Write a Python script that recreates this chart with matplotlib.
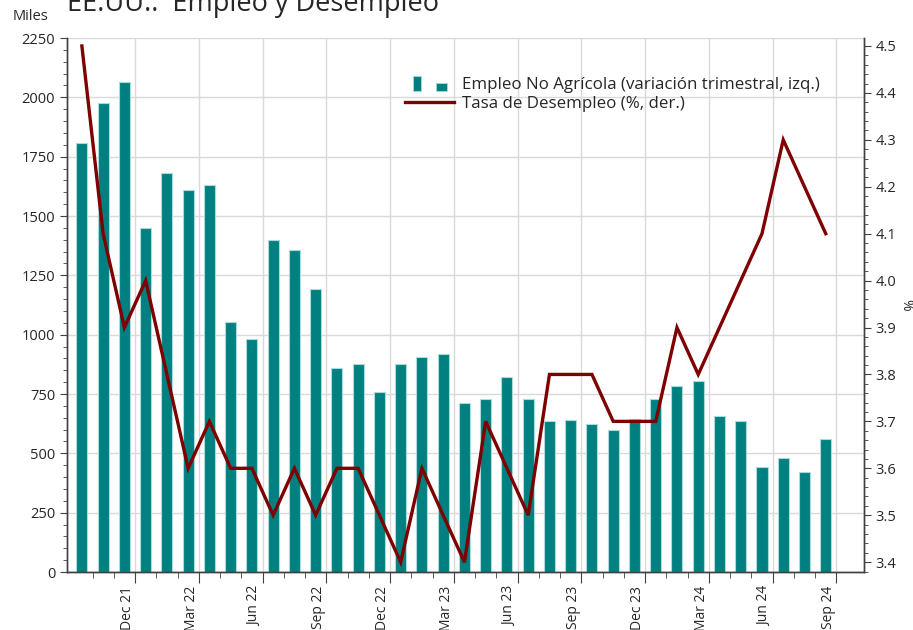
import matplotlib
matplotlib.use("Agg")
import matplotlib.pyplot as plt
import numpy as np
from matplotlib.legend_handler import HandlerBase
from matplotlib.patches import Rectangle, Patch
from matplotlib.lines import Line2D
from matplotlib.ticker import MultipleLocator, FixedLocator

plt.rcParams["font.family"] = ["Open Sans", "DejaVu Sans"]

# ---- data (Oct 21 .. Sep 24, monthly) ----------------------------------------
months = ["Oct 21", "Nov 21", "Dec 21", "Jan 22", "Feb 22", "Mar 22", "Apr 22", "May 22",
          "Jun 22", "Jul 22", "Aug 22", "Sep 22", "Oct 22", "Nov 22", "Dec 22", "Jan 23",
          "Feb 23", "Mar 23", "Apr 23", "May 23", "Jun 23", "Jul 23", "Aug 23", "Sep 23",
          "Oct 23", "Nov 23", "Dec 23", "Jan 24", "Feb 24", "Mar 24", "Apr 24", "May 24",
          "Jun 24", "Jul 24", "Aug 24", "Sep 24"]
payrolls_3m = [1806, 1978, 2063, 1450, 1683, 1611, 1632, 1055, 980, 1398, 1357, 1193,
               861, 878, 757, 878, 906, 920, 712, 729, 822, 729, 636, 640,
               625, 597, 643, 729, 785, 806, 656, 636, 444, 479, 423, 560]
unemployment = [4.5, 4.1, 3.9, 4.0, 3.8, 3.6, 3.7, 3.6, 3.6, 3.5, 3.6, 3.5,
                3.6, 3.6, 3.5, 3.4, 3.6, 3.5, 3.4, 3.7, 3.6, 3.5, 3.8, 3.8,
                3.8, 3.7, 3.7, 3.7, 3.9, 3.8, 3.9, 4.0, 4.1, 4.3, 4.2, 4.1]
quarter_labels = ["Dec 21", "Mar 22", "Jun 22", "Sep 22", "Dec 22", "Mar 23",
                  "Jun 23", "Sep 23", "Dec 23", "Mar 24", "Jun 24", "Sep 24"]

TEAL = "#008080"
TEAL_EDGE = "#a8dcd8"
RED = "#7f0000"
GRID = "#d9d9d9"
AXC = "#404040"
TXT = "#262626"

x = np.arange(len(months))

fig = plt.figure(figsize=(9.13, 6.30), dpi=100)
ax = fig.add_axes([67/913, 1 - 572/630, (864 - 67)/913, (572 - 38)/630])
ax2 = ax.twinx()

ax.bar(x, payrolls_3m, width=0.52, color=TEAL, edgecolor=TEAL_EDGE, linewidth=0.8, zorder=2)
ax2.plot(x, unemployment, color=RED, lw=2.4, solid_joinstyle="miter")

ax.set_xlim(-0.7, 36.8)
ax.set_ylim(0, 2250)
ax2.set_ylim(3.379, 4.517)

# left axis
ax.yaxis.set_major_locator(MultipleLocator(250))
ax.yaxis.set_minor_locator(MultipleLocator(50))
# right axis
ax2.yaxis.set_major_locator(FixedLocator(np.round(np.arange(3.4, 4.51, 0.1), 1)))
ax2.yaxis.set_minor_locator(FixedLocator(np.arange(3.38, 4.52, 0.02)))
ax2.yaxis.set_major_formatter(matplotlib.ticker.FormatStrFormatter("%.1f"))

# x axis: ticks at month boundaries, majors after each quarter-end month
major_pos = [months.index(m) + 0.5 for m in quarter_labels]
ax.xaxis.set_major_locator(FixedLocator(major_pos))
ax.xaxis.set_minor_locator(FixedLocator(np.arange(len(months)) + 0.5))
ax.set_xticklabels(quarter_labels, rotation=90, ha="right", va="top")

ax.grid(True, which="major", color=GRID, lw=1.0)
ax.set_axisbelow(True)

for a in (ax, ax2):
    a.spines["top"].set_visible(False)
    for s in ("left", "right", "bottom"):
        a.spines[s].set_color(AXC)
        a.spines[s].set_linewidth(1.0)
ax.tick_params(axis="both", which="both", colors=AXC, labelcolor=TXT, labelsize=10.5)
ax.tick_params(axis="x", which="both", labelsize=10)
ax.tick_params(axis="y", which="major", length=5)
ax.tick_params(axis="y", which="minor", length=3)
ax.tick_params(axis="x", which="major", length=8, pad=2)
ax.tick_params(axis="x", which="minor", length=4)
ax2.tick_params(axis="y", which="both", colors=AXC, labelcolor=TXT, labelsize=10.5)
ax2.tick_params(axis="y", which="major", length=5)
ax2.tick_params(axis="y", which="minor", length=3)

ax2.set_ylabel("%", rotation=270, fontsize=10, color=TXT, labelpad=12)
fig.text(30/913, 1 - 17/630, "Miles", fontsize=10.5, color=TXT, ha="center", va="center")
fig.text(67/913, 1 - 11/630, "EE.UU.:  Empleo y Desempleo", fontsize=19.5, color=TXT,
         ha="left", va="baseline")


class TwoBoxHandler(HandlerBase):
    def create_artists(self, legend, orig_handle, xdescent, ydescent, width, height,
                       fontsize, trans):
        x0, y0 = -xdescent, -ydescent - 0.15*height
        r1 = Rectangle((x0 + 0.16*width, y0), 0.17*width, 1.25*height,
                       fc=TEAL, ec=TEAL_EDGE, lw=0.6, transform=trans)
        r2 = Rectangle((x0 + 0.62*width, y0), 0.24*width, 0.65*height,
                       fc=TEAL, ec=TEAL_EDGE, lw=0.6, transform=trans)
        return [r1, r2]


h_bar = Patch(fc=TEAL)
h_line = Line2D([], [], color=RED, lw=2.4)
ax2.legend([h_bar, h_line],
           ["Empleo No Agrícola (variación trimestral, izq.)", "Tasa de Desempleo (%, der.)"],
           handler_map={Patch: TwoBoxHandler()},
           loc="upper left", bbox_to_anchor=(0.405, 0.955), frameon=False,
           fontsize=12.2, handlelength=2.9, handletextpad=0.45, labelspacing=0.15,
           labelcolor=TXT)

fig.savefig("out.png", dpi=100, facecolor="white")
